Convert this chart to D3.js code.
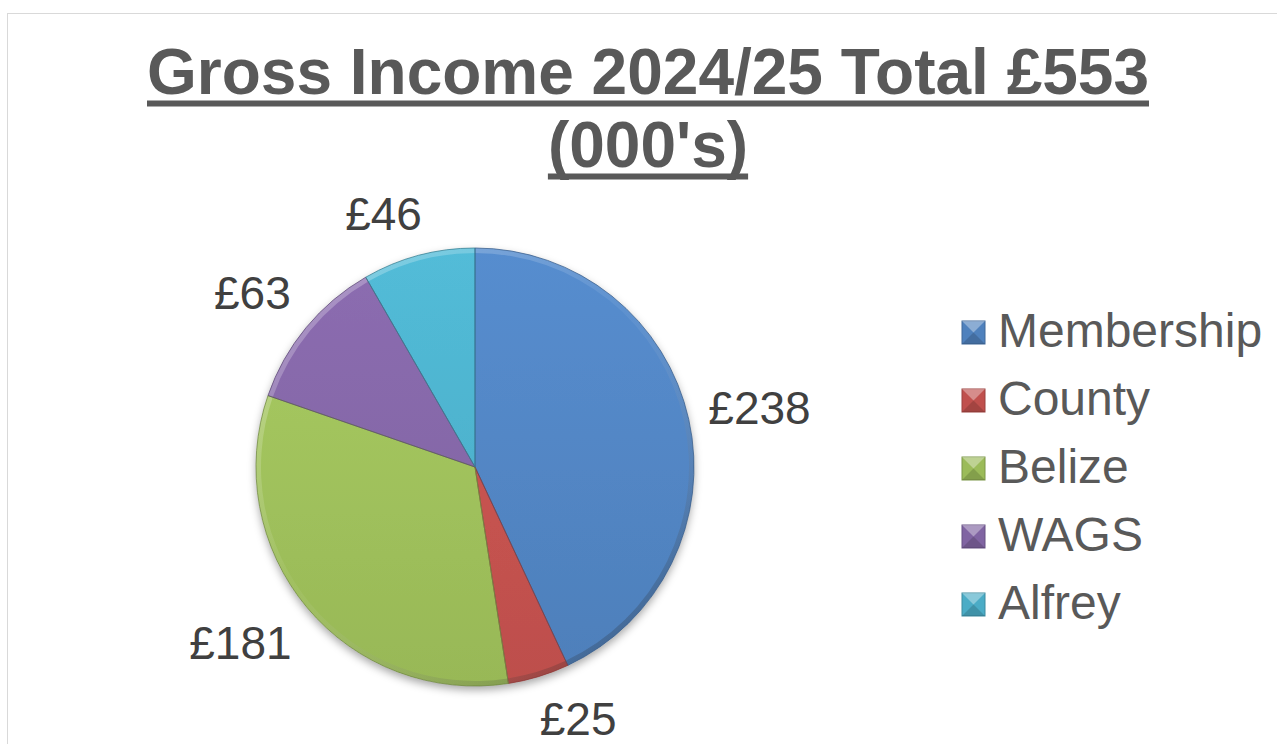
<!DOCTYPE html>
<html>
<head>
<meta charset="utf-8">
<script src="https://cdn.jsdelivr.net/npm/d3@7"></script>
<style>
  html, body { margin: 0; padding: 0; background: #fff; overflow: hidden; }
  svg { display: block; }
</style>
</head>
<body>
<div id="chart"></div>
<script>
// chart data
const categories = ["Membership", "County", "Belize", "WAGS", "Alfrey"]
const values = [238, 25, 181, 63, 46]
const colours = ["#4F81BD", "#C0504D", "#9BBB59", "#8064A2", "#4BACC6"]
const titleLines = ["Gross Income 2024/25 Total £553", "(000's)"]
const labelPrefix = "£"

const width = 1277
const height = 744
const cx = 475, cy = 467, radius = 219

const svg = d3.select("#chart").append("svg")
  .attr("width", width)
  .attr("height", height)

// chart area border
svg.append("rect")
  .attr("x", 7.5).attr("y", 13.5)
  .attr("width", 1400).attr("height", 900)
  .attr("fill", "#fff")
  .attr("stroke", "#d9d9d9")
  .attr("stroke-width", 1)

const defs = svg.append("defs")

// soft shadow under the pie
const shadow = defs.append("filter").attr("id", "shadow")
  .attr("x", "-20%").attr("y", "-20%").attr("width", "140%").attr("height", "140%")
shadow.append("feDropShadow")
  .attr("dx", 0).attr("dy", 4).attr("stdDeviation", 4)
  .attr("flood-color", "#000").attr("flood-opacity", 0.35)

// one vertical gradient per slice, lighter towards the top (pie group space)
colours.forEach((c, i) => {
  const g = defs.append("linearGradient")
    .attr("id", "grad" + i)
    .attr("gradientUnits", "userSpaceOnUse")
    .attr("x1", 0).attr("y1", -radius)
    .attr("x2", 0).attr("y2", radius)
  g.append("stop").attr("offset", "0%").attr("stop-color", d3.color(c).brighter(0.25))
  g.append("stop").attr("offset", "100%").attr("stop-color", d3.color(c).darker(0.05))
})

// rim bevel gradient
const rim = defs.append("linearGradient")
  .attr("id", "rim")
  .attr("gradientUnits", "userSpaceOnUse")
  .attr("x1", -radius).attr("y1", -radius)
  .attr("x2", radius * 0.6).attr("y2", radius)
rim.append("stop").attr("offset", "0%").attr("stop-color", "#fff").attr("stop-opacity", 0.35)
rim.append("stop").attr("offset", "50%").attr("stop-color", "#fff").attr("stop-opacity", 0.05)
rim.append("stop").attr("offset", "100%").attr("stop-color", "#000").attr("stop-opacity", 0.25)

const pie = d3.pie().sort(null).value(d => d)
const arcs = pie(values)

const arc = d3.arc().innerRadius(0).outerRadius(radius)
const rimArc = d3.arc().innerRadius(radius - 5).outerRadius(radius)

const pieG = svg.append("g")
  .attr("transform", `translate(${cx},${cy})`)

const slices = pieG.append("g").attr("filter", "url(#shadow)")

slices.selectAll("path.slice")
  .data(arcs)
  .enter()
  .append("path")
  .attr("class", "slice")
  .attr("d", arc)
  .attr("fill", (d, i) => `url(#grad${i})`)

pieG.selectAll("path.rim")
  .data(arcs)
  .enter()
  .append("path")
  .attr("class", "rim")
  .attr("d", rimArc)
  .attr("fill", "url(#rim)")

pieG.selectAll("path.edge")
  .data(arcs)
  .enter()
  .append("path")
  .attr("class", "edge")
  .attr("d", arc)
  .attr("fill", "none")
  .attr("stroke", (d, i) => d3.color(colours[i]).darker(0.9))
  .attr("stroke-width", 1)
  .attr("stroke-opacity", 0.75)

// data labels outside end
const labelSize = 46
const labelArc = d3.arc().innerRadius(radius + 20).outerRadius(radius + 20)
const clamp = v => Math.max(-1, Math.min(1, v))

pieG.selectAll("text.label")
  .data(arcs)
  .enter()
  .append("text")
  .attr("class", "label")
  .attr("font-family", "'Liberation Sans', Arial, sans-serif")
  .attr("font-size", labelSize)
  .attr("fill", "#404040")
  .attr("text-anchor", "middle")
  .text(d => labelPrefix + d.data)
  .each(function (d) {
    const t = d3.select(this)
    const w = this.getComputedTextLength()
    const h = labelSize
    const a = (d.startAngle + d.endAngle) / 2
    const [px, py] = labelArc.centroid(d)
    const ox = w / 2 * clamp(Math.sin(a) * 3)
    const oy = h / 2 * clamp(-Math.cos(a) * 1.5)
    t.attr("x", px + ox).attr("y", py + oy + labelSize * 0.36)
  })

// title with underline
const titleSize = 64
const title = svg.append("g")
titleLines.forEach((line, i) => {
  const baseline = 94 + i * 73
  const t = title.append("text")
    .attr("x", 648)
    .attr("y", baseline)
    .attr("text-anchor", "middle")
    .attr("font-family", "'Liberation Sans', Arial, sans-serif")
    .attr("font-weight", "bold")
    .attr("font-size", titleSize)
    .attr("fill", "#595959")
    .text(line)
  const w = t.node().getComputedTextLength()
  title.append("rect")
    .attr("x", 648 - w / 2)
    .attr("y", baseline + 6.5)
    .attr("width", w)
    .attr("height", 6)
    .attr("fill", "#595959")
})

// legend
const legendSize = 48
const legend = svg.append("g").attr("transform", "translate(962,347)")
const items = legend.selectAll("g.item")
  .data(categories)
  .enter()
  .append("g")
  .attr("class", "item")
  .attr("transform", (d, i) => `translate(0,${i * 68})`)

items.append("rect")
  .attr("x", 0).attr("y", -26)
  .attr("width", 23).attr("height", 23)
  .attr("fill", (d, i) => colours[i])
  .attr("stroke", (d, i) => d3.color(colours[i]).darker(0.6))
  .attr("stroke-width", 1)

// small bevel on the legend keys
items.append("path")
  .attr("d", "M0,-26 L23,-26 L11.5,-14.5 Z")
  .attr("fill", "#fff").attr("fill-opacity", 0.35)
items.append("path")
  .attr("d", "M0,-3 L23,-3 L11.5,-14.5 Z")
  .attr("fill", "#000").attr("fill-opacity", 0.15)

items.append("text")
  .attr("x", 36)
  .attr("y", 0)
  .attr("font-family", "'Liberation Sans', Arial, sans-serif")
  .attr("font-size", legendSize)
  .attr("fill", "#595959")
  .text(d => d)
</script>
</body>
</html>
